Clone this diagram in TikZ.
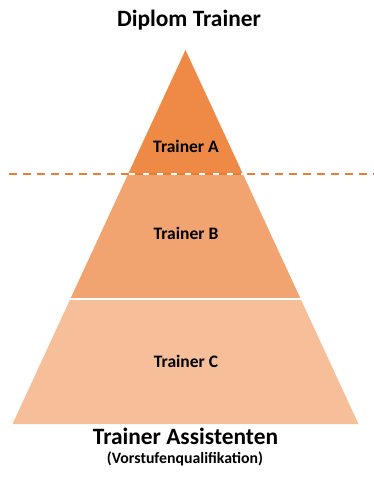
\documentclass[tikz,border=0pt]{standalone}
\usepackage{fontspec}
\setmainfont{Carlito}
\definecolor{bandA}{HTML}{EE8A45}
\definecolor{bandB}{HTML}{F1A46F}
\definecolor{bandC}{HTML}{F6BF9A}
\definecolor{dashc}{HTML}{ED7D31}
\tikzset{
  band/.style={draw=white, line width=1.2pt, line join=miter},
  lbl/.style={font=\bfseries\fontsize{17.5}{19}\selectfont, text=black, anchor=base, inner sep=0pt},
  title/.style={font=\bfseries\fontsize{23.4}{26}\selectfont, text=black, anchor=base, inner sep=0pt},
  subtitle/.style={font=\bfseries\fontsize{15.8}{17}\selectfont, text=black, anchor=base, inner sep=0pt},
  divider/.style={draw=dashc, line width=2pt, dash pattern=on 8pt off 6pt}
}
\begin{document}
\begin{tikzpicture}[x=1pt,y=-1pt]
\useasboundingbox (0,0) rectangle (374,489);
% band corners
\coordinate (apex) at (185.5,50);
\coordinate (l1) at (128.1,174); \coordinate (r1) at (242.9,174);
\coordinate (l2) at (70.3,299);  \coordinate (r2) at (300.7,299);
\coordinate (l3) at (12.5,424);  \coordinate (r3) at (358.5,424);
\fill[bandC] (l2) -- (r2) -- (r3) -- (l3) -- cycle;
\fill[bandB] (l1) -- (r1) -- (r2) -- (l2) -- cycle;
\fill[bandA] (apex) -- (r1) -- (l1) -- cycle;
\draw[band] (l1) -- (r1);
\draw[band] (l2) -- (r2);
% divider
\coordinate (dl) at (9,174);
\coordinate (dr) at (374,174);
\draw[divider] (dl) -- (dr);
% texts
\node[title] (top) at (189,27) {Diplom Trainer};
\node[lbl] (ta) at (186,152.7) {Trainer A};
\node[lbl] (tb) at (186,239) {Trainer B};
\node[lbl] (tc) at (186,367) {Trainer C};
\node[title] (bot) at (185.5,444) {Trainer Assistenten};
\node[subtitle] (sub) at (185,463) {(Vorstufenqualifikation)};
\end{tikzpicture}
\end{document}
